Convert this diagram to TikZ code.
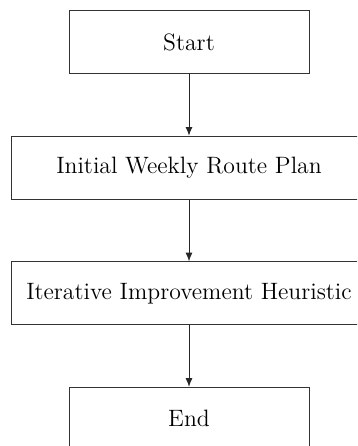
\documentclass[tikz,border=0pt]{standalone}
\usetikzlibrary{arrows.meta}
\begin{document}
\begin{tikzpicture}[x=0.5193pt,y=-0.5193pt,
  box/.style={draw=black!80,line width=0.5pt,inner sep=0pt,font=\fontsize{12.3}{14}\selectfont,minimum height=63*0.5193pt},
  narrow/.style={box,minimum width=240*0.5193pt},
  wide/.style={box,minimum width=355.3*0.5193pt},
  conn/.style={draw=black!85,line width=0.45pt,-{Latex[length=4.5pt,width=3.6pt]}}]
\useasboundingbox (0,0) rectangle (357,446);
\clip (0,0) rectangle (357,446);
\node[narrow] (start) at (189,42) {Start};
\node[wide] (plan) at (189,167.7) {Initial Weekly Route Plan};
\node[wide] (heur) at (189,293.3) {Iterative Improvement Heuristic};
\node[narrow] (end) at (189,418.8) {End};
\draw[conn] (start) -- (plan);
\draw[conn] (plan) -- (heur);
\draw[conn] (heur) -- (end);
\end{tikzpicture}
\end{document}
